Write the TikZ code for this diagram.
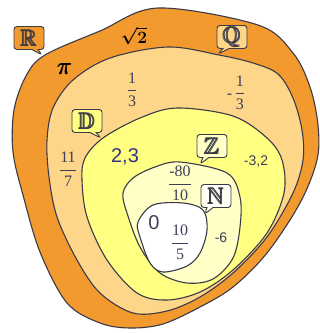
\documentclass[tikz,border=0pt]{standalone}
\usepackage{amsmath,amssymb}
\usepackage{fontspec}
\setmainfont{Liberation Serif}
\setsansfont{Liberation Sans}
\usetikzlibrary{shapes.callouts}
\definecolor{realcol}{HTML}{F39A2E}
\definecolor{ratcol}{HTML}{FDD68A}
\definecolor{deccol}{HTML}{FFFF82}
\definecolor{intcol}{HTML}{FFFFC6}
\definecolor{natcol}{HTML}{FFFFFF}
\definecolor{edgecol}{HTML}{3A3A48}
\definecolor{numcol}{HTML}{3E3E58}
\definecolor{deccolt}{HTML}{35357A}
\newcommand\numfrac[2]{$\dfrac{\text{#1}}{\text{#2}}$}
\newcommand\setname[1]{$\pmb{\mathbb{#1}}$}
\begin{document}
\begin{tikzpicture}[
        x=1pt, y=-1pt,
        region/.style={draw=edgecol, line width=1.1pt},
        blob/.style={smooth cycle, tension=0.55},
        setlabel/.style={rectangle callout, draw=edgecol, line width=0.9pt, rounded corners=3pt,
            minimum width=30pt, minimum height=23pt, inner sep=0pt, callout pointer width=6pt,
            font=\fontsize{23}{23}\selectfont, text=edgecol},
        numlabel/.style={text=numcol, inner sep=0pt, font=\fontsize{16}{18}\selectfont},
        sanslabel/.style={text=numcol, inner sep=0pt, font=\sffamily\fontsize{14}{16}\selectfont}
        ]
        \useasboundingbox (0,0) rectangle (320,333);

        % Nested set regions, outside to inside
        \path[fill=realcol, region] plot[blob] coordinates {(158,8) (258,25) (293,53) (310,87) (318,125) (317,160)
            (300,203) (267,253) (233,287) (200,307) (163,324) (130,328) (100,323) (67,303) (40,252)
            (23,195) (13,152) (14,110) (26,76) (45,55) (100,31)};
        \path[fill=ratcol, region] plot[blob] coordinates {(168,47) (219,55) (253,63) (278,74) (293,98)
            (302,130) (303,160) (293,193) (267,237) (233,273) (200,297) (167,311) (133,313) (100,293)
            (77,260) (57,217) (49,177) (47,140) (53,108) (73,80) (110,58)};
        \path[fill=deccol, region] plot[blob] coordinates {(177,108) (233,116) (267,138) (282,160)
            (284,193) (267,233) (233,270) (200,292) (167,300) (137,293) (107,260) (87,217) (82,180)
            (85,158) (103,138) (140,118)};
        \path[fill=intcol, region] plot[blob] coordinates {(180,162) (227,173) (240,197) (240,227)
            (233,258) (213,279) (187,283) (160,273) (140,247) (127,213) (123,193) (133,178) (155,167)};
        \path[fill=natcol, region] plot[blob] coordinates {(153,205) (183,203) (203,210) (207,230)
            (200,253) (187,266) (163,272) (150,263) (140,237) (138,222)};

        % Set names in callouts
        \node[setlabel, fill=realcol, callout absolute pointer={(42,55)}] (lblR) at (29,38) {\setname{R}};
        \node[setlabel, fill=ratcol, callout absolute pointer={(218,54)}] (lblQ) at (232,37) {\setname{Q}};
        \node[setlabel, fill=deccol, callout absolute pointer={(101,138)}] (lblD) at (87,121) {\setname{D}};
        \node[setlabel, fill=intcol, callout absolute pointer={(200,164)}] (lblZ) at (212,146) {\setname{Z}};
        \node[setlabel, fill=natcol!80!intcol, callout absolute pointer={(205,214)}] (lblN) at (216,196) {\setname{N}};

        % Elements
        \node[inner sep=0pt, font=\fontsize{17}{18}\selectfont] (sqrttwo) at (134,36) {$\boldsymbol{\sqrt{2}}$};
        \node[inner sep=0pt, font=\fontsize{25}{25}\selectfont] (pinum) at (65,69) {$\pmb{\pi}$};
        \node[numlabel] (third) at (132,90) {\numfrac{1}{3}};
        \node[numlabel] (mthird) at (236,93) {-\,\numfrac{1}{3}};
        \node[numlabel] (elevsev) at (68,169) {\numfrac{11}{7}};
        \node[sanslabel, text=deccolt, font=\sffamily\fontsize{20}{20}\selectfont] (twothree) at (125,157) {2,3};
        \node[sanslabel] (mthreetwo) at (256,162) {-3,2};
        \node[numlabel] (meighty) at (180,183) {\numfrac{-80}{10}};
        \node[sanslabel, font=\sffamily\fontsize{20}{20}\selectfont] (zero) at (154,223) {0};
        \node[numlabel] (tenfive) at (180,242) {\numfrac{10}{5}};
        \node[sanslabel] (msix) at (221,238) {-6};
    \end{tikzpicture}
\end{document}
